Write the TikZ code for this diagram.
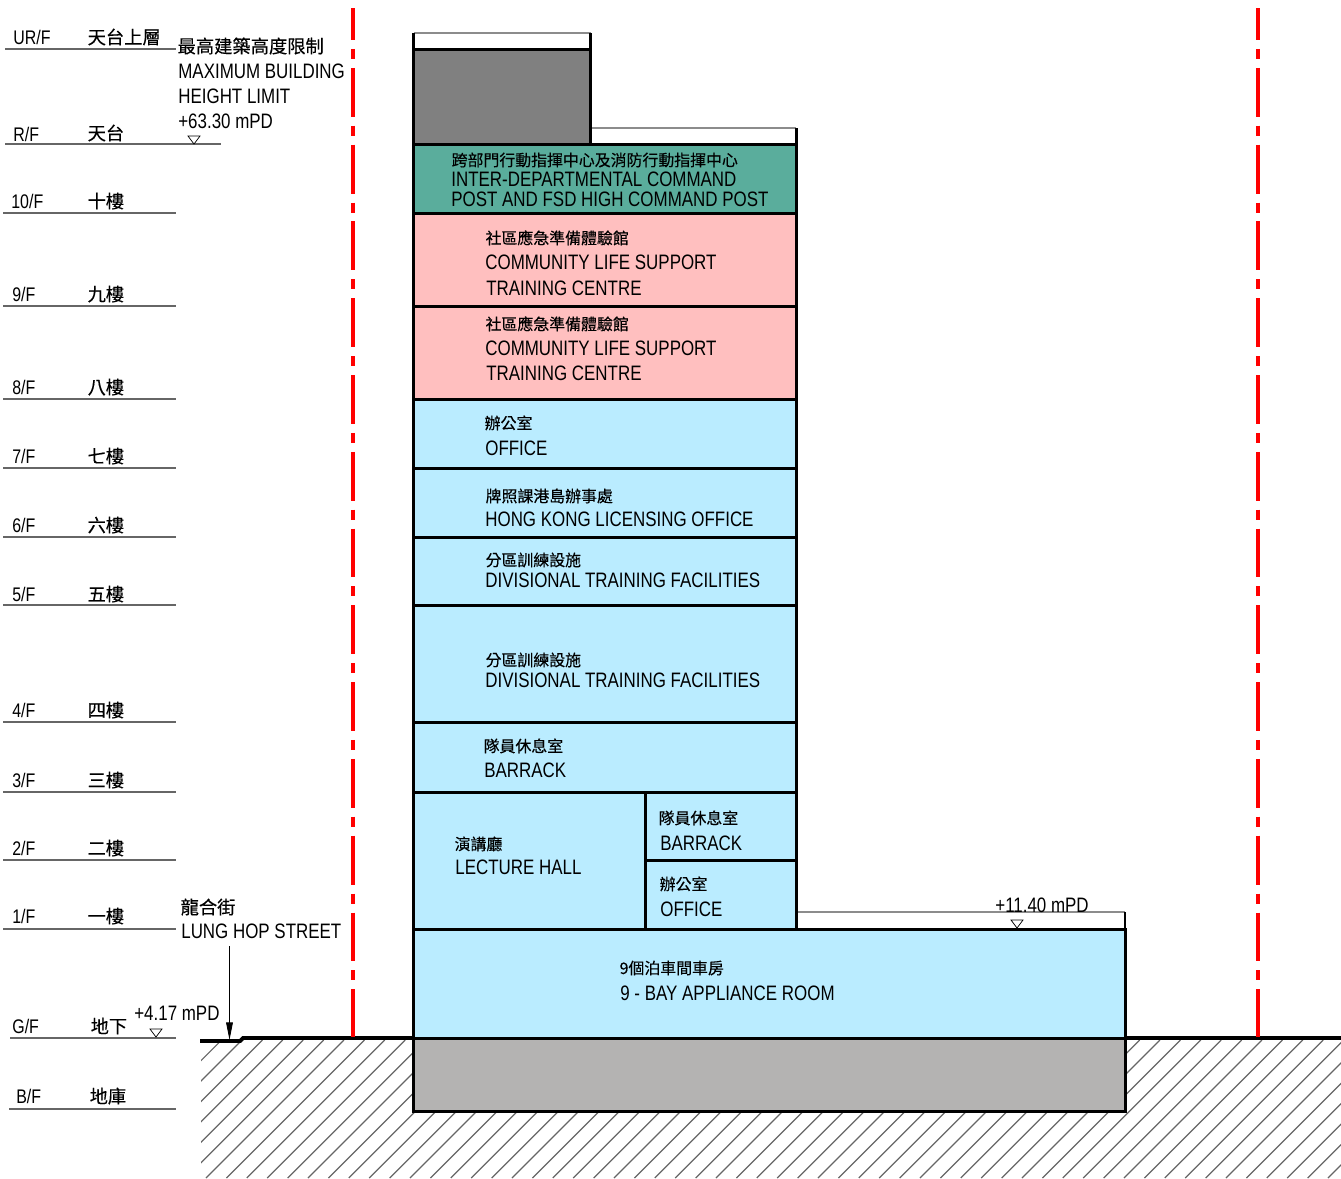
\documentclass[tikz,border=0pt]{standalone}
\usepackage{fontspec}
\setmainfont[FakeStretch=0.81]{Liberation Sans}
\newfontfamily\cjk[FakeBold=0.3]{Noto Sans CJK TC}
\usetikzlibrary{arrows.meta}
\definecolor{roomblue}{HTML}{BAECFF}
\definecolor{roompink}{HTML}{FFBFBF}
\definecolor{roomgreen}{HTML}{5AAD9C}
\definecolor{plantgrey}{HTML}{808080}
\definecolor{basegrey}{HTML}{B4B3B2}
\definecolor{levelgrey}{HTML}{666666}
\tikzset{
  room/.style={draw=black, line width=1.7pt},
  parapet/.style={draw=black!45, line width=0.8pt},
  levelline/.style={draw=levelgrey, line width=0.8pt},
  limitline/.style={draw=red, line width=2.8pt, dash pattern=on 27.8pt off 5.1pt on 5.7pt off 5.1pt, dash phase=9.6pt},
  groundline/.style={draw=black, line width=2.2pt},
  hatchline/.style={draw=levelgrey, line width=0.7pt},
  datum/.style={draw=black, line width=0.4pt, fill=white},
  engl/.style={font=\fontsize{11.9}{14}\selectfont, anchor=base west, inner sep=0pt, yshift=0.3pt},
  cjksmall/.style={font=\cjk\fontsize{9.05}{11}\selectfont, anchor=base west, inner sep=0pt, xshift=-0.4pt},
  cjkbig/.style={font=\cjk\fontsize{10.4}{12}\selectfont, anchor=base west, inner sep=0pt, xshift=-0.4pt},
  levellabel/.style={font=\fontsize{11.2}{12}\selectfont, anchor=base west, inner sep=0pt}
}
\begin{document}
\begin{tikzpicture}[x=0.02cm, y=-0.02cm]
\useasboundingbox (0,0) rectangle (1341,1178);

% Hatched ground
\begin{scope}
\clip (201,1040) rectangle (1341,1178);
\foreach \s in {1261.6,1282,...,2520} \draw[hatchline] (\s-1040,1040) -- (\s-1178,1178);
\end{scope}

% Ground line
\draw[groundline] (200,1041) -- (240,1041) -- (243,1038) -- (414,1038);
\draw[groundline] (1125,1038) -- (1341,1038);

% Site limits
\draw[limitline] (353,8) -- (353,1037);
\draw[limitline] (1258,8) -- (1258,1037);

% Parapets
\draw[parapet] (413.7,33) -- (590.5,33);
\draw[parapet] (590.5,128) -- (796,128);
\draw[parapet] (796,912) -- (1125,912);
\draw[room] (413.7,33) -- (413.7,49);
\draw[room] (590.5,33) -- (590.5,144.5);
\draw[room] (796,128) -- (796,144.5);
\draw[room, line width=1pt] (1125,912) -- (1125,929);

% Rooms
\draw[room, fill=plantgrey] (413.7,49.5) rectangle (590.5,144.5);
\draw[room, fill=roomgreen] (413.7,144.5) rectangle (796,213);
\draw[room, fill=roompink] (413.7,213) rectangle (796,306);
\draw[room, fill=roompink] (413.7,306) rectangle (796,399);
\foreach \top/\bot in {399/468, 468/537, 537/605, 605/722, 722/792}
  \draw[room, fill=roomblue] (413.7,\top) rectangle (796,\bot);
\draw[room, fill=roomblue] (413.7,792) rectangle (645,929);
\draw[room, fill=roomblue] (645,792) rectangle (796,860);
\draw[room, fill=roomblue] (645,860) rectangle (796,929);
\draw[room, fill=roomblue] (413.7,929) rectangle (1125,1038);
\draw[room, fill=basegrey] (413.7,1038) rectangle (1125,1111);

% Floor levels
\foreach \name/\en/\zh/\xa/\xb/\xe/\xz/\lev/\base/\zbase in {
  ur/UR\slash F/天台上層/5/176/13/88/49/44/44,
  r/R\slash F/天台/5/221/13/88/144/141/140,
  ten/10\slash F/十樓/3/176/11/88/213/208/208,
  nine/9\slash F/九樓/3/176/12/88/306/301/301,
  eight/8\slash F/八樓/3/176/12/88/399/394/394,
  seven/7\slash F/七樓/3/176/12/88/468/463/463,
  six/6\slash F/六樓/3/176/12/88/537/532/532,
  five/5\slash F/五樓/3/176/12/88/605/601/601,
  four/4\slash F/四樓/3/176/12/88/722/717/717,
  three/3\slash F/三樓/3/176/12/88/792/787/787,
  two/2\slash F/二樓/3/176/12/88/860/855/855,
  one/1\slash F/一樓/3/176/12/88/929/923/923,
  g/G\slash F/地下/10/176/12/91/1038/1033/1033,
  b/B\slash F/地庫/9/176/16/90/1109/1103/1103}{
  \draw[levelline] (\xa,\lev) -- (\xb,\lev);
  \node[levellabel] (en\name) at (\xe,\base) {\en};
  \node[cjkbig] (zh\name) at (\xz,\zbase) {\zh};
}

% Datum marks
\foreach \xd/\yd in {194/144, 156/1037, 1017/928}
  \draw[datum] (\xd-6,\yd-8) -- (\xd+6,\yd-8) -- (\xd,\yd) -- cycle;

% Side notes
\node[cjkbig] (limitzh) at (178,53) {最高建築高度限制};
\node[engl] (limitone) at (178,79) {MAXIMUM BUILDING};
\node[engl] (limittwo) at (178,104) {HEIGHT LIMIT};
\node[engl] (limitmpd) at (178,129) {+63.30 mPD};
\node[cjkbig] (streetzh) at (181,914) {龍合街};
\node[engl] (streeten) at (181,939) {LUNG HOP STREET};
\node[engl] (groundmpd) at (134,1021) {+4.17 mPD};
\node[engl] (podiummpd) at (995,913) {+11.40 mPD};

% Street arrow
\coordinate (streetfrom) at (229.5,946);
\coordinate (streetto) at (229.5,1040);
\draw[draw=black, line width=0.5pt, -{Triangle[length=10pt, width=3.8pt]}] (streetfrom) -- (streetto);

% Room labels
\node[cjksmall] (postzh) at (452,166) {跨部門行動指揮中心及消防行動指揮中心};
\node[engl] (postone) at (451,187) {INTER-DEPARTMENTAL COMMAND};
\node[engl] (posttwo) at (451,207) {POST AND FSD HIGH COMMAND POST};

\node[cjksmall] (ninezh) at (486,244) {社區應急準備體驗館};
\node[engl] (nineone) at (485,270) {COMMUNITY LIFE SUPPORT};
\node[engl] (ninetwo) at (486,296) {TRAINING CENTRE};
\node[cjksmall] (eightzh) at (486,330) {社區應急準備體驗館};
\node[engl] (eightone) at (485,356) {COMMUNITY LIFE SUPPORT};
\node[engl] (eighttwo) at (486,381) {TRAINING CENTRE};

\node[cjksmall] (sevenzh) at (485,429) {辦公室};
\node[engl] (seven) at (485,456) {OFFICE};
\node[cjksmall] (sixzh) at (486,502) {牌照課港島辦事處};
\node[engl] (six) at (485,527) {HONG KONG LICENSING OFFICE};
\node[cjksmall] (fivezh) at (486,566) {分區訓練設施};
\node[engl] (five) at (485,588) {DIVISIONAL TRAINING FACILITIES};
\node[cjksmall] (fourzh) at (486,666) {分區訓練設施};
\node[engl] (four) at (485,688) {DIVISIONAL TRAINING FACILITIES};
\node[cjksmall] (threezh) at (484,752) {隊員休息室};
\node[engl] (three) at (484,778) {BARRACK};

\node[cjksmall] (hallzh) at (455,850) {演講廳};
\node[engl] (hall) at (455,875) {LECTURE HALL};
\node[cjksmall] (twozh) at (659,824) {隊員休息室};
\node[engl] (two) at (660,851) {BARRACK};
\node[cjksmall] (onezh) at (660,890) {辦公室};
\node[engl] (one) at (660,917) {OFFICE};

\node[cjksmall] (bayzh) at (620,974) {9個泊車間車房};
\node[engl] (bay) at (620,1001) {9 - BAY APPLIANCE ROOM};
\end{tikzpicture}
\end{document}
